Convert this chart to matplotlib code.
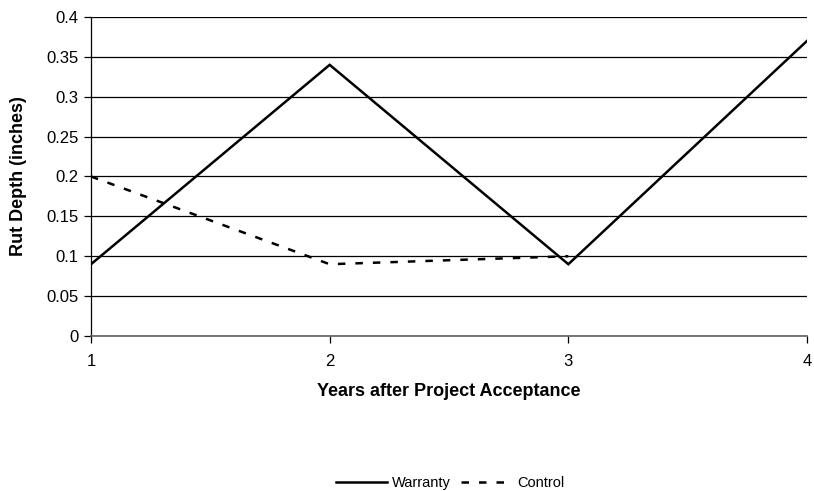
import matplotlib
matplotlib.use("Agg")
import matplotlib.pyplot as plt
from matplotlib.lines import Line2D

years = [1, 2, 3, 4]
warranty = [0.09, 0.34, 0.09, 0.37]
control_years = [1, 2, 3]
control = [0.20, 0.09, 0.10]
yticks = [0, 0.05, 0.1, 0.15, 0.2, 0.25, 0.3, 0.35, 0.4]
ytick_labels = ["0", "0.05", "0.1", "0.15", "0.2", "0.25", "0.3", "0.35", "0.4"]

plt.rcParams['font.family'] = ['Liberation Sans', 'DejaVu Sans']

fig = plt.figure(figsize=(8.14, 4.91), dpi=100)
ax = fig.add_axes([0.1118, 0.3157, 0.8796, 0.6497])

dash = (0, (3, 4))
ax.plot(years, warranty, color='black', lw=1.8, solid_joinstyle='miter', label='Warranty', zorder=3)
ax.plot(control_years, control, color='black', lw=1.8, ls=dash, label='Control', zorder=3)

ax.set_xlim(1, 4)
ax.set_ylim(0, 0.4)
ax.set_yticks(yticks)
ax.set_yticklabels(ytick_labels)
ax.set_xticks(years)
ax.set_xticklabels([str(y) for y in years])
ax.yaxis.grid(True, color='black', lw=0.9)
ax.set_axisbelow(True)

for s in ['top', 'right']:
    ax.spines[s].set_visible(False)
ax.spines['left'].set_color('black')
ax.spines['bottom'].set_color('#606060')
ax.spines['left'].set_linewidth(0.9)
ax.spines['bottom'].set_linewidth(1.2)

ax.tick_params(axis='both', labelsize=12, direction='out', length=5, width=0.9, color='black')
ax.tick_params(axis='x', pad=8)
ax.tick_params(axis='y', pad=4)

ax.set_xlabel('Years after Project Acceptance', fontsize=13, fontweight='bold', labelpad=10)
ax.set_ylabel('Rut Depth (inches)', fontsize=13, fontweight='bold')
ax.yaxis.set_label_coords(-0.09, 0.5)

handles = [Line2D([], [], color='black', lw=1.8),
           Line2D([], [], color='black', lw=1.8, ls=dash)]
fig.legend(handles, ['Warranty', 'Control'], loc='center', bbox_to_anchor=(0.553, 0.017),
           ncol=2, frameon=False, fontsize=10.5, handlelength=3.5, handletextpad=0.35,
           columnspacing=0.7, borderpad=0)

fig.savefig('out.png', dpi=100)
